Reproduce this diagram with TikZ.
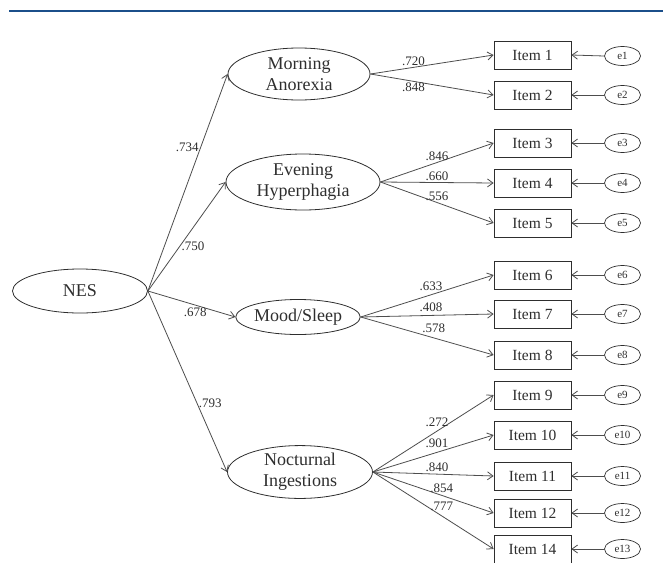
\documentclass[tikz,border=0pt]{standalone}
\usepackage{fontspec}
\setmainfont{Liberation Serif}
\usetikzlibrary{shapes.geometric,arrows.meta}
\definecolor{rulebl}{HTML}{1B4F8A}
\definecolor{ink}{HTML}{2E2E2E}
\tikzset{
  latv/.style={draw=ink,ellipse,inner sep=0pt,align=center,text=ink,line width=0.8pt,font=\rmfamily\fontsize{18}{21}\selectfont},
  itemv/.style={draw=ink,rectangle,minimum width=77pt,minimum height=28pt,inner sep=0pt,text=ink,line width=0.8pt,font=\rmfamily\fontsize{15.5}{18}\selectfont},
  errv/.style={draw=ink,ellipse,minimum width=36pt,minimum height=19pt,inner sep=0pt,text=ink,line width=0.7pt,font=\rmfamily\fontsize{11}{12}\selectfont},
  lab/.style={font=\rmfamily\fontsize{13}{14}\selectfont,text=ink,inner sep=1.5pt},
  arr/.style={draw=ink!85,line width=0.8pt,-{Straight Barb[length=5.5pt,width=8pt]}},
}
\begin{document}
\begin{tikzpicture}[x=1pt,y=-1pt]
  \useasboundingbox (0,0) rectangle (663,562);
  \draw[rulebl,line width=2.5pt] (9,11) -- (663,11);
  % latent factors
  \node[latv,minimum width=135pt,minimum height=44pt] (nes) at (80,291) {NES};
  \node[latv,minimum width=142pt,minimum height=52pt] (morn) at (299,74) {Morning\\Anorexia};
  \node[latv,minimum width=154pt,minimum height=56pt] (even) at (303,182) {Evening\\Hyperphagia};
  \node[latv,minimum width=117pt,minimum height=35pt] (mood) at (298,317) {Mood/Sleep};
  \node[latv,minimum width=145pt,minimum height=51pt] (noct) at (300,472) {Nocturnal\\Ingestions};
  % observed items
  \node[itemv] (it1) at (532.5,55) {Item 1};
  \node[itemv] (it2) at (532.5,95) {Item 2};
  \node[itemv] (it3) at (532.5,143) {Item 3};
  \node[itemv] (it4) at (532.5,183) {Item 4};
  \node[itemv] (it5) at (532.5,223) {Item 5};
  \node[itemv] (it6) at (532.5,275) {Item 6};
  \node[itemv] (it7) at (532.5,314) {Item 7};
  \node[itemv] (it8) at (532.5,355) {Item 8};
  \node[itemv] (it9) at (532.5,395) {Item 9};
  \node[itemv] (it10) at (532.5,435) {Item 10};
  \node[itemv] (it11) at (532.5,476) {Item 11};
  \node[itemv] (it12) at (532.5,513) {Item 12};
  \node[itemv] (it14) at (532.5,549) {Item 14};
  % error terms
  \node[errv] (e1) at (622.5,56) {e1};
  \node[errv] (e2) at (622.5,95) {e2};
  \node[errv] (e3) at (622.5,143) {e3};
  \node[errv] (e4) at (622.5,183) {e4};
  \node[errv] (e5) at (622.5,223) {e5};
  \node[errv] (e6) at (622.5,275) {e6};
  \node[errv] (e7) at (622.5,314) {e7};
  \node[errv] (e8) at (622.5,355) {e8};
  \node[errv] (e9) at (622.5,395) {e9};
  \node[errv] (e10) at (622.5,435) {e10};
  \node[errv] (e11) at (622.5,476) {e11};
  \node[errv] (e12) at (622.5,513) {e12};
  \node[errv] (e13) at (622.5,549) {e13};
  % second-order loadings
  \draw[arr] (nes.east) -- node[lab,pos=0.66,left] {.734} (morn.west);
  \draw[arr] (nes.east) -- node[lab,pos=0.41,right] {.750} (even.west);
  \draw[arr] (nes.east) -- node[lab,pos=0.54,below=1pt] {.678} (mood.west);
  \draw[arr] (nes.east) -- node[lab,pos=0.62,right] {.793} (noct.west);
  % first-order loadings
  \draw[arr] (morn.east) -- node[lab,pos=0.35,above] {.720} (it1.west);
  \draw[arr] (morn.east) -- node[lab,pos=0.35,below] {.848} (it2.west);
  \draw[arr] (even.east) -- node[lab,pos=0.5,above] {.846} (it3.west);
  \draw[arr] (even.east) -- node[lab,pos=0.5,above] {.660} (it4.west);
  \draw[arr] (even.east) -- node[lab,pos=0.5,above] {.556} (it5.west);
  \draw[arr] (mood.east) -- node[lab,pos=0.53,above=2pt] {.633} (it6.west);
  \draw[arr] (mood.east) -- node[lab,pos=0.53,above=2pt] {.408} (it7.west);
  \draw[arr] (mood.east) -- node[lab,pos=0.55,above=3pt] {.578} (it8.west);
  \draw[arr] (noct.east) -- node[lab,pos=0.53,above=3pt] {.272} (it9.west);
  \draw[arr] (noct.east) -- node[lab,pos=0.53,above=3pt] {.901} (it10.west);
  \draw[arr] (noct.east) -- node[lab,pos=0.53,above=1pt] {.840} (it11.west);
  \draw[arr] (noct.east) -- node[lab,pos=0.57,above=1pt] {.854} (it12.west);
  \draw[arr] (noct.east) -- node[lab,pos=0.57,above=3pt] {.777} (it14.west);
  % residuals
  \draw[arr] (e1.west) -- (it1.east);
  \draw[arr] (e2.west) -- (it2.east);
  \draw[arr] (e3.west) -- (it3.east);
  \draw[arr] (e4.west) -- (it4.east);
  \draw[arr] (e5.west) -- (it5.east);
  \draw[arr] (e6.west) -- (it6.east);
  \draw[arr] (e7.west) -- (it7.east);
  \draw[arr] (e8.west) -- (it8.east);
  \draw[arr] (e9.west) -- (it9.east);
  \draw[arr] (e10.west) -- (it10.east);
  \draw[arr] (e11.west) -- (it11.east);
  \draw[arr] (e12.west) -- (it12.east);
  \draw[arr] (e13.west) -- (it14.east);
\end{tikzpicture}
\end{document}
